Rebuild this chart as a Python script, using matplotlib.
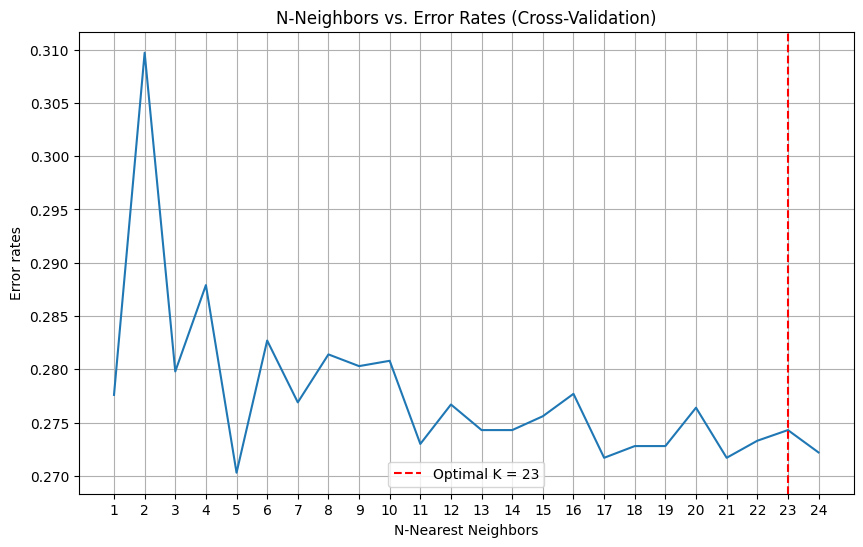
import matplotlib
matplotlib.use("Agg")
import matplotlib.pyplot as plt

# cross-validation error rate for each k
neighbors = list(range(1, 25))
error_rates = [0.2776, 0.3097, 0.2798, 0.2879, 0.2703, 0.2827, 0.2769, 0.2814,
               0.2803, 0.2808, 0.2730, 0.2767, 0.2743, 0.2743, 0.2756, 0.2777,
               0.2717, 0.2728, 0.2728, 0.2764, 0.2717, 0.2733, 0.2743, 0.2722]
optimal_k = 23

plt.figure(figsize=(10, 6))
plt.plot(neighbors, error_rates)
plt.axvline(x=optimal_k, color='red', linestyle='--', label='Optimal K = ' + str(optimal_k))
plt.xticks(neighbors)
plt.xlabel('N-Nearest Neighbors')
plt.ylabel('Error rates')
plt.title('N-Neighbors vs. Error Rates (Cross-Validation)')
plt.legend(loc='lower center')
plt.grid(True)
plt.savefig('out.png', dpi=100, bbox_inches='tight')
